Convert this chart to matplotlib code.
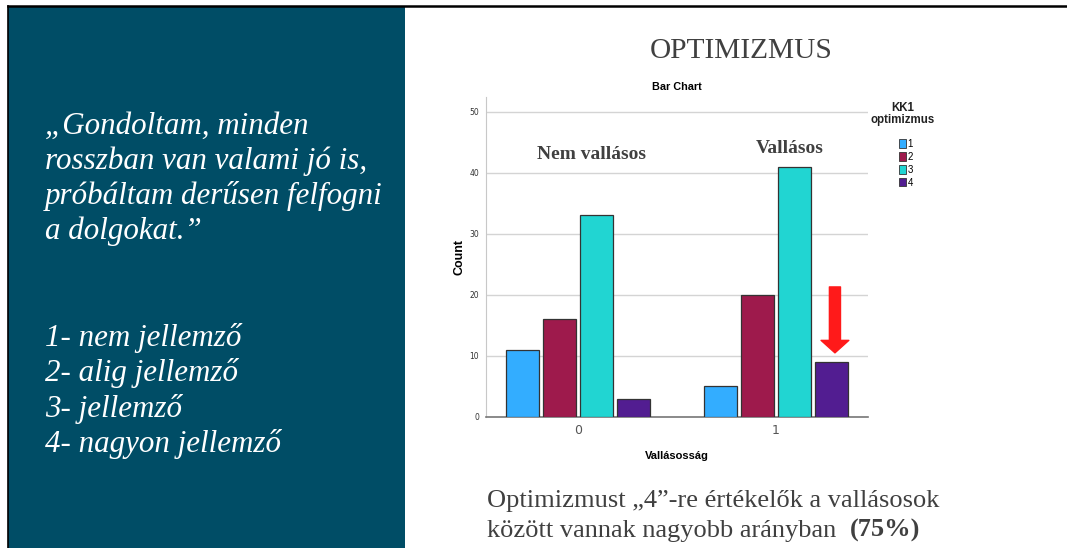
import matplotlib.pyplot as plt
from matplotlib.patches import Rectangle, Patch
import numpy as np

# data
groups = ['0', '1']
group_names = ['Nem vallásos', 'Vallásos']
levels = ['1', '2', '3', '4']
counts = {
    '1': [11, 5],
    '2': [16, 20],
    '3': [33, 41],
    '4': [3, 9],
}
colors = ['#33adff', '#9e1a4c', '#21d5d2', '#521d91']

quote_lines = ['„Gondoltam, minden', 'rosszban van valami jó is,',
               'próbáltam derűsen felfogni', 'a dolgokat.”']
scale_lines = ['1- nem jellemző', '2- alig jellemző', '3- jellemző',
               '4- nagyon jellemző']

W, H = 1067, 548
fig = plt.figure(figsize=(W / 100, H / 100), dpi=100)


def fx(px):
    return px / W


def fy(py):
    return 1 - py / H


# slide background pieces
fig.patches.append(Rectangle((fx(8), 0), fx(405) - fx(8), fy(7), transform=fig.transFigure,
                             facecolor='#004d66', edgecolor='none', zorder=0))
fig.add_artist(plt.Line2D([fx(8), fx(8)], [0, fy(6)], color='black', lw=1.2))
fig.add_artist(plt.Line2D([fx(8), 1], [fy(6), fy(6)], color='black', lw=1.8))

for i, line in enumerate(quote_lines):
    fig.text(fx(45), fy(126 + i * 35), line, color='white', fontsize=22.3,
             family='Liberation Serif', style='italic', va='center')
for i, line in enumerate(scale_lines):
    fig.text(fx(45), fy(338 + i * 35.3), line, color='white', fontsize=22.3,
             family='Liberation Serif', style='italic', va='center')

fig.text(fx(741), fy(51), 'OPTIMIZMUS', color='#404040', fontsize=21.2,
         family='Liberation Serif', ha='center', va='center')

fig.text(fx(487), fy(507), 'Optimizmust „4”-re értékelők a vallásosok', color='#404040',
         fontsize=19, family='Liberation Serif', ha='left', va='baseline')
t = fig.text(fx(487), fy(537), 'között vannak nagyobb arányban  ', color='#404040',
             fontsize=19, family='Liberation Serif', ha='left', va='baseline')
fig.canvas.draw()
bb = t.get_window_extent()
fig.text(bb.x1 / W, fy(537), '(75%)', color='#404040', fontsize=19,
         family='Liberation Serif', weight='bold', ha='left', va='baseline')

# chart
ax = fig.add_axes([fx(486), fy(417), fx(868) - fx(486), (417 - 97) / H])
x = np.arange(len(groups))
step = 0.187
width = 0.167
for i, lev in enumerate(levels):
    ax.bar(x + (i - 1.5) * step, counts[lev], width, color=colors[i],
           edgecolor='#333333', linewidth=0.9, zorder=3, label=lev)

ax.set_xlim(-0.465, 1.465)
ax.set_ylim(0, 52.4)
ax.set_yticks([0, 10, 20, 30, 40, 50])
ax.set_xticks(x)
ax.set_xticklabels(groups)
ax.grid(axis='y', color='#d4d4d4', lw=1, zorder=0)
for s in ['top', 'right']:
    ax.spines[s].set_visible(False)
ax.spines['left'].set_color('#c8c8c8')
ax.spines['bottom'].set_color('#777777')
ax.spines['bottom'].set_linewidth(1.2)
ax.tick_params(axis='y', length=0, labelsize=5.5, colors='#333333', pad=5)
ax.tick_params(axis='x', length=0, labelsize=9, colors='#555555', pad=5)
ax.set_ylabel('Count', fontsize=9, weight='bold', family='Liberation Sans', labelpad=3)
ax.set_xlabel('Vallásosság', fontsize=8, weight='bold', family='Liberation Sans', labelpad=10)
ax.set_title('Bar Chart', fontsize=7.8, weight='bold', family='Liberation Sans', pad=5)

ax.text(0.07, 43.0, group_names[0], fontsize=14, weight='bold', family='Liberation Serif',
        color='#404040', ha='center', va='center')
ax.text(1.07, 44.0, group_names[1], fontsize=14, weight='bold', family='Liberation Serif',
        color='#404040', ha='center', va='center')

ax.annotate('', xy=(1.298, 10.5), xytext=(1.298, 21.3),
            arrowprops=dict(arrowstyle='simple,head_width=2.0,head_length=0.9,tail_width=0.8',
                            mutation_scale=10, color='#ff1a1a', shrinkA=0, shrinkB=0),
            zorder=5)

# legend
fig.text(fx(903), fy(114), 'KK1\noptimizmus', fontsize=8.3, weight='bold',
         family='Liberation Sans', ha='center', va='center', linespacing=1.0,
         color='#222222')
handles = [Patch(facecolor=c, edgecolor='#333333', linewidth=0.6) for c in colors]
leg = ax.legend(handles, levels, loc='upper left',
                bbox_to_anchor=(fx(894), fy(134)), bbox_transform=fig.transFigure,
                frameon=False, fontsize=7, handlelength=0.75,
                handleheight=0.95, handletextpad=0.15, labelspacing=0.3,
                borderpad=0)
for txt in leg.get_texts():
    txt.set_family('Liberation Sans')

fig.savefig('out.png', dpi=100)
